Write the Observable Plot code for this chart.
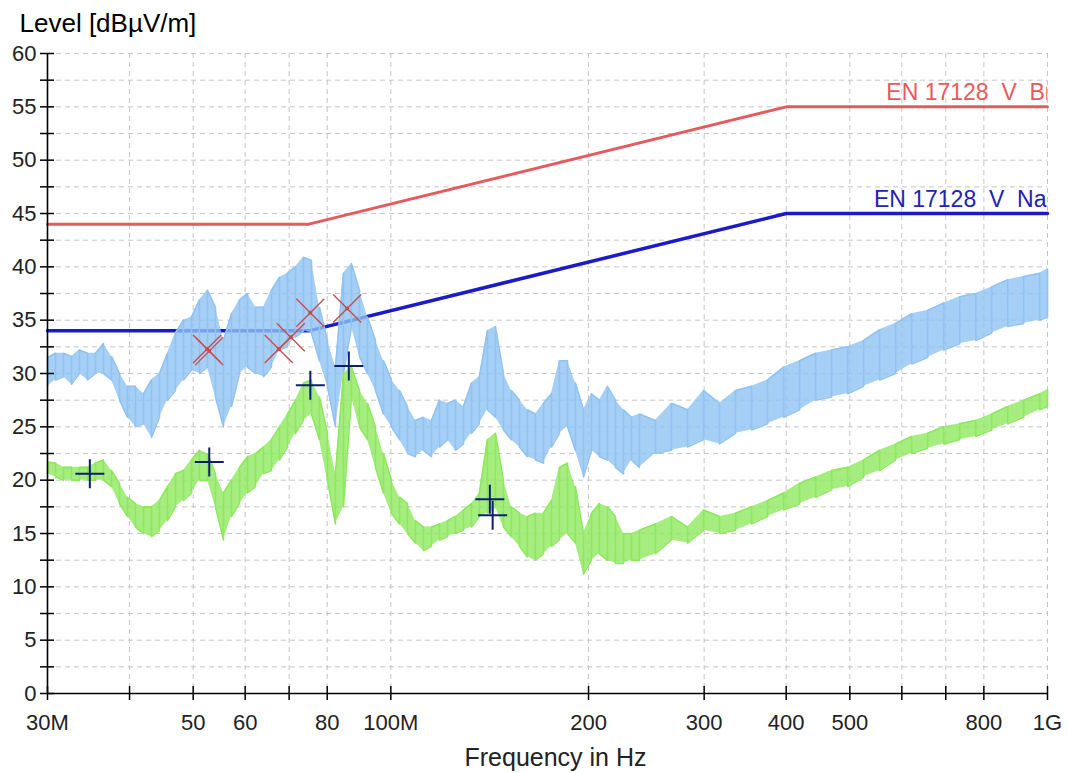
<!DOCTYPE html>
<html><head><meta charset="utf-8">
<script src="https://cdn.jsdelivr.net/npm/d3@7"></script>
<script src="https://cdn.jsdelivr.net/npm/@observablehq/plot@0.6"></script>
<style>
html,body{margin:0;padding:0;background:#fff;}
#chart svg text{white-space:pre;}
</style></head><body><div id="chart"></div>
<script>
// ---- data ----
const freqMHz = [30.0, 30.86, 31.73, 32.63, 33.56, 34.52, 35.5, 36.51, 37.55, 38.62, 39.71, 40.84, 42.01, 43.2, 44.43, 45.69, 46.99, 48.33, 49.7, 51.12, 52.57, 54.07, 55.61, 57.19, 58.82,
  60.49, 62.21, 63.98, 65.8, 67.67, 69.6, 71.58, 73.61, 75.7, 77.86, 80.07, 82.35, 84.69, 87.1, 89.58, 92.13, 94.75, 97.45, 100.2, 103.1, 106.0, 109.0, 112.1, 115.3,
  118.6, 122.0, 125.4, 129.0, 132.7, 136.4, 140.3, 144.3, 148.4, 152.6, 157.0, 161.4, 166.0, 170.8, 175.6, 180.6, 185.8, 191.0, 196.5, 202.1, 207.8, 213.7, 219.8, 226.1, 232.5,
  239.1, 252.9, 267.5, 283.0, 299.4, 316.6, 334.9, 354.3, 374.7, 396.4, 419.3, 443.5, 469.1,
  496.2, 524.8, 555.1, 587.2, 621.1, 656.9, 694.9, 735.0, 777.4, 822.3, 869.8, 920.0, 973.1, 1000];

const peakLo = [28.8, 29.4, 29.7, 29.0, 30.0, 29.4, 30.0, 30.0, 29.4, 27.5, 25.9, 25.0, 25.3, 24.0, 25.9, 27.5, 28.4, 29.4, 30.3, 30.0, 30.6, 27.8, 25.0, 26.9, 30.0,
  30.6, 30.0, 29.7, 30.6, 32.2, 32.5, 33.4, 34.0, 33.8, 31.2, 28.8, 25.0, 30.0, 34.4, 31.6, 30.0, 28.4, 26.2, 25.0, 23.8, 22.5, 22.2, 22.8, 22.2,
  23.1, 23.8, 22.8, 23.4, 24.4, 25.3, 26.6, 25.9, 24.7, 23.8, 23.1, 22.2, 21.9, 21.6, 23.1, 24.4, 25.0, 22.8, 20.3, 22.8, 22.2, 21.9, 21.2, 20.6, 21.9,
  21.2, 22.5, 22.8, 23.1, 23.8, 23.4, 24.4, 24.7, 25.3, 25.9, 26.6, 27.5, 27.8,
  28.1, 28.8, 29.4, 30.0, 30.9, 31.5, 32.2, 32.8, 33.1, 33.8, 34.4, 34.7, 35.0, 35.3];

const peakHi = [31.5, 31.9, 31.9, 31.6, 32.2, 31.9, 31.9, 32.8, 31.6, 30.0, 28.8, 28.8, 28.1, 29.4, 30.0, 31.9, 33.8, 35.0, 35.3, 36.9, 37.8, 36.2, 33.1, 35.6, 36.9,
  37.5, 36.2, 36.2, 37.8, 39.0, 39.4, 40.0, 40.9, 40.6, 36.2, 33.1, 30.6, 39.4, 40.3, 37.8, 35.3, 33.1, 31.2, 29.4, 28.4, 26.9, 25.6, 25.9, 25.6,
  27.5, 27.2, 27.5, 26.9, 29.1, 29.7, 34.0, 34.4, 30.0, 28.4, 27.5, 26.6, 26.2, 27.2, 28.1, 31.2, 31.2, 29.1, 26.6, 28.1, 27.5, 28.8, 27.5, 26.6, 25.9,
  26.2, 25.6, 27.2, 26.6, 28.4, 27.2, 28.4, 28.8, 29.4, 30.6, 31.2, 31.9, 32.2,
  32.5, 33.1, 34.1, 34.7, 35.6, 35.9, 36.6, 37.2, 37.5, 38.1, 38.8, 39.1, 39.4, 39.8];

const avgLo = [20.6, 20.3, 20.0, 20.0, 20.0, 20.0, 20.0, 20.0, 19.4, 17.8, 16.6, 15.6, 15.0, 14.7, 15.3, 16.2, 17.5, 18.1, 18.8, 20.0, 20.0, 17.5, 14.4, 16.6, 17.8,
  18.8, 19.4, 20.6, 20.9, 21.9, 23.1, 24.4, 25.6, 26.2, 23.8, 20.0, 15.9, 17.5, 27.8, 25.0, 23.8, 21.2, 18.8, 16.9, 15.9, 15.0, 14.1, 13.4, 13.8,
  14.4, 14.7, 15.0, 15.3, 15.6, 16.6, 16.9, 17.5, 15.6, 14.7, 13.8, 12.8, 12.5, 13.1, 13.8, 14.4, 15.0, 14.1, 11.2, 12.5, 13.1, 12.5, 12.2, 12.2, 12.5,
  12.5, 13.1, 14.4, 14.1, 15.3, 15.0, 15.3, 15.9, 16.6, 17.2, 17.8, 18.4, 19.1,
  19.4, 20.3, 20.9, 21.9, 22.5, 23.0, 23.4, 23.8, 24.1, 24.7, 25.3, 25.9, 26.6, 26.9];

const avgHi = [21.7, 21.6, 21.2, 21.2, 21.2, 21.2, 21.6, 21.9, 20.9, 19.7, 18.4, 17.8, 17.5, 17.5, 18.1, 19.4, 20.6, 20.9, 21.9, 22.8, 22.5, 20.6, 18.8, 20.0, 21.2,
  22.2, 22.5, 23.1, 23.8, 25.0, 26.2, 27.5, 29.1, 29.4, 27.8, 24.4, 20.6, 30.0, 30.6, 28.4, 27.2, 25.0, 22.5, 20.0, 18.4, 17.8, 16.2, 15.6, 15.6,
  15.9, 16.2, 16.6, 17.2, 17.8, 18.8, 23.8, 24.4, 20.0, 17.5, 16.9, 16.6, 16.9, 16.9, 18.1, 21.2, 21.6, 19.4, 15.0, 16.9, 17.8, 17.5, 16.6, 15.0, 15.0,
  15.3, 15.9, 16.6, 15.6, 17.2, 16.6, 16.9, 17.5, 18.1, 18.8, 19.7, 20.3, 20.9,
  21.2, 21.9, 22.8, 23.4, 24.1, 24.4, 25.0, 25.3, 25.6, 26.2, 26.9, 27.5, 28.1, 28.5];

const limitFreq = [30, 75, 400, 1000];
const limitBr = [44, 44, 55, 55];
const limitNa = [34, 34, 45, 45];
const limitBrName = "EN 17128  V  Br";
const limitNaName = "EN 17128  V  Na";

const peakMarkFreq = [52.5, 52.9, 67.5, 70.4, 75.4, 85.8];
const peakMarkLevel = [32.3, 32.1, 32.3, 33.4, 35.7, 36.1];
const avgMarkFreq = [34.8, 52.9, 75.4, 86.3, 141.5, 142.9];
const avgMarkLevel = [20.6, 21.7, 28.9, 30.7, 18.2, 16.7];

const yTicks = [0, 5, 10, 15, 20, 25, 30, 35, 40, 45, 50, 55, 60];
const yMinor = [2.5, 7.5, 12.5, 17.5, 22.5, 27.5, 32.5, 37.5, 42.5, 47.5, 52.5, 57.5];
const xTicks = [30, 40, 50, 60, 70, 80, 100, 200, 300, 400, 500, 600, 700, 800, 1000];
const xLabels = ["30M", "", "50", "60", "", "80", "100M", "200", "300", "400", "500", "", "", "800", "1G"];
const yTitle = "Level [dBµV/m]";
const xTitle = "Frequency in Hz";

// ---- derived tables ----
const zig = (lo, hi) => freqMHz.flatMap((f, i) => i % 2
  ? [{f, v: hi[i]}, {f, v: lo[i]}]
  : [{f, v: lo[i]}, {f, v: hi[i]}]);
const band = (lo, hi) => freqMHz.map((f, i) => ({f, lo: lo[i], hi: hi[i]}));
const limBr = limitFreq.map((f, i) => ({f, v: limitBr[i]}));
const limNa = limitFreq.map((f, i) => ({f, v: limitNa[i]}));
const pMarks = peakMarkFreq.map((f, i) => ({f, v: peakMarkLevel[i]}));
const aMarks = avgMarkFreq.map((f, i) => ({f, v: avgMarkLevel[i]}));
const xLab = xTicks.map((f, i) => ({f, t: xLabels[i]})).filter(d => d.t);

const plusSym = {draw(c) { const r = 14.5; c.moveTo(-r, 0); c.lineTo(r, 0); c.moveTo(0, -r); c.lineTo(0, r); }};
const timesSym = {draw(c) { const r = 14; c.moveTo(-r, -r); c.lineTo(r, r); c.moveTo(-r, r); c.lineTo(r, -r); }};

const W = 1068, H = 773, mL = 47, mR = 21, mT = 53, mB = 80;
const fw = W - mL - mR, fh = H - mT - mB;
const gridC = "#c6c6c6";
const peakC = "#90c3f3", avgC = "#8ee85f";
const redC = "#e65a5e", blueC = "#1a1ac8";

const chart = Plot.plot({
  width: W, height: H,
  marginLeft: mL, marginRight: mR, marginTop: mT, marginBottom: mB,
  x: {type: "log", domain: [30, 1000], axis: null},
  y: {domain: [0, 60], axis: null},
  style: {fontFamily: "'Liberation Sans', Arial, sans-serif", fontSize: "22px", background: "#fff", overflow: "visible"},
  marks: [
    // grid
    Plot.ruleY(yTicks.concat(yMinor).filter(v => v > 0), {stroke: gridC, strokeDasharray: "5,4", strokeWidth: 1}),
    Plot.ruleX(xTicks.filter(v => v > 30), {stroke: gridC, strokeDasharray: "5,4", strokeWidth: 1}),
    // limit lines
    Plot.line(limBr, {x: "f", y: "v", stroke: redC, strokeWidth: 3}),
    Plot.line(limNa, {x: "f", y: "v", stroke: blueC, strokeWidth: 3.5}),
    // peak trace
    Plot.areaY(band(peakLo, peakHi), {x: "f", y1: "lo", y2: "hi", fill: peakC, fillOpacity: 0.8}),
    Plot.line(zig(peakLo, peakHi), {x: "f", y: "v", stroke: peakC, strokeWidth: 1.6}),
    // average trace
    Plot.areaY(band(avgLo, avgHi), {x: "f", y1: "lo", y2: "hi", fill: avgC, fillOpacity: 0.8}),
    Plot.line(zig(avgLo, avgHi), {x: "f", y: "v", stroke: avgC, strokeWidth: 1.6}),
    // limit labels
    Plot.text([limBr[3]], {x: "f", y: "v", text: () => limitBrName, textAnchor: "end", dx: 5, dy: -14, fill: redC, fontSize: 23, clip: true}),
    Plot.text([limNa[3]], {x: "f", y: "v", text: () => limitNaName, textAnchor: "end", dx: -1, dy: -14, fill: "#2222b4", fontSize: 23, clip: true}),
    // markers
    Plot.dot(pMarks, {x: "f", y: "v", symbol: timesSym, r: 10, fill: "none", stroke: "#c84a4a", strokeWidth: 1.3}),
    Plot.dot(pMarks, {x: "f", y: "v", r: 2, fill: "#c84a4a"}),
    Plot.dot(aMarks, {x: "f", y: "v", symbol: plusSym, r: 10, fill: "none", stroke: "#0d1f70", strokeWidth: 2}),
    // axes
    Plot.ruleX([30], {stroke: "#000", strokeWidth: 1.6}),
    Plot.ruleY([0], {stroke: "#000", strokeWidth: 1.6}),
    Plot.tickY(yTicks.concat(yMinor), {y: d => d, stroke: "#000", strokeWidth: 1.5, insetLeft: -7, insetRight: fw - 7}),
    Plot.tickX(xTicks, {x: d => d, stroke: "#000", strokeWidth: 1.5, insetTop: fh - 7, insetBottom: -7}),
    Plot.text(yTicks, {y: d => d, text: d => String(d), frameAnchor: "left", textAnchor: "end", dx: -11, fill: "#222", fontSize: 22}),
    Plot.text(xLab, {x: "f", text: "t", frameAnchor: "bottom", lineAnchor: "middle", dy: 29, fill: "#222", fontSize: 22}),
    Plot.text([yTitle], {frameAnchor: "top-left", lineAnchor: "middle", textAnchor: "start", dx: -28, dy: -30, fill: "#000", fontSize: 26}),
    Plot.text([xTitle], {frameAnchor: "bottom", lineAnchor: "middle", dx: 8, dy: 64, fill: "#222", fontSize: 25})
  ]
});
document.getElementById("chart").append(chart);
</script></body></html>
